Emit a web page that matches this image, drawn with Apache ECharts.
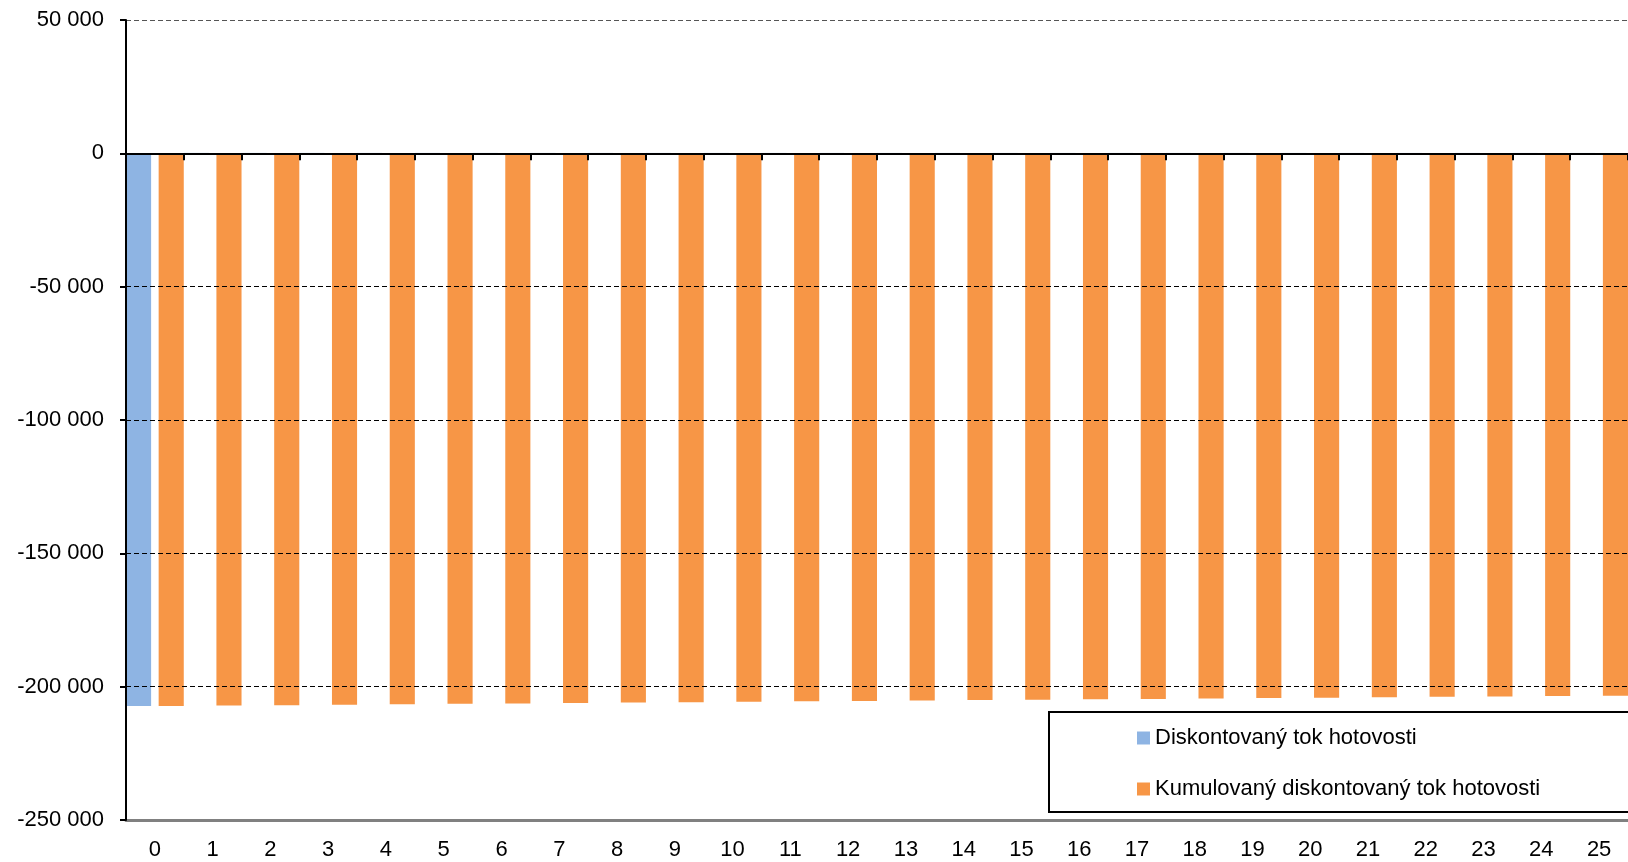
<!DOCTYPE html>
<html>
<head>
<meta charset="utf-8">
<script src="https://cdn.jsdelivr.net/npm/echarts@6/dist/echarts.min.js"></script>
<style>
html,body{margin:0;padding:0;background:#fff;}
#chart{width:1628px;height:862px;}
</style>
</head>
<body>
<div id="chart"></div>
<script>
const categories = ['0','1','2','3','4','5','6','7','8','9','10','11','12','13','14','15','16','17','18','19','20','21','22','23','24','25'];
const discounted = [-207250,165,163,162,160,160,158,158,157,156,156,155,155,154,154,153,153,152,152,151,151,150,150,149,149,148];
const cumulative = [-207250,-207085,-206922,-206760,-206600,-206440,-206282,-206124,-205967,-205811,-205655,-205500,-205345,-205191,-205037,-204884,-204731,-204579,-204427,-204276,-204125,-203975,-203825,-203676,-203527,-203379];
const seriesNames = ['Diskontovaný tok hotovosti','Kumulovaný diskontovaný tok hotovosti'];
const yTicks = {min:-250000, max:50000, interval:50000};

const FONT = 'Liberation Sans';
function fmt(v){
  if (v === 0) return '0';
  const s = String(Math.abs(v)).replace(/\B(?=(\d{3})+(?!\d))/g, ' ');
  return (v < 0 ? '-' : '') + s;
}

const chart = echarts.init(document.getElementById('chart'), null, {renderer:'canvas'});
chart.setOption({
  animation:false,
  backgroundColor:'#fff',
  textStyle:{fontFamily:FONT},
  grid:{left:126, top:20, bottom:42, right:-11, containLabel:false},
  legend:{
    orient:'vertical',
    left:1049, top:712,
    padding:[15,200,12,88],
    borderColor:'#000', borderWidth:2,
    itemWidth:13, itemHeight:13, itemGap:29,
    icon:'rect',
    textStyle:{fontFamily:FONT, fontSize:22, color:'#000', padding:[0,0,0,0]},
    data:seriesNames
  },
  xAxis:[
    {
      type:'category', data:categories, position:'bottom',
      axisLine:{onZero:false, lineStyle:{color:'#808080', width:3}},
      axisTick:{show:false},
      axisLabel:{fontFamily:FONT, fontSize:22, color:'#000', margin:19, interval:0},
      splitLine:{show:false}
    },
    {
      type:'category', data:categories, position:'bottom', z:10,
      axisLine:{onZero:true, lineStyle:{color:'#000', width:2}},
      axisTick:{show:true, length:7, interval:0, lineStyle:{color:'#000', width:2}},
      axisLabel:{show:false},
      splitLine:{show:false}
    }
  ],
  yAxis:{
    type:'value', min:yTicks.min, max:yTicks.max, interval:yTicks.interval, z:10,
    axisLine:{show:true, lineStyle:{color:'#000', width:2}},
    axisTick:{show:true, length:6, lineStyle:{color:'#000', width:2}},
    axisLabel:{fontFamily:FONT, fontSize:22, color:'#000', margin:22, formatter:fmt},
    splitLine:{show:true, lineStyle:{type:[5,3], width:1, color:['#808080','#000','#000','#000','#000','#000','#555']}}
  },
  series:[
    {name:seriesNames[0], type:'bar', xAxisIndex:0, data:discounted, barGap:'30%', barCategoryGap:'0%',
     itemStyle:{color:'#8EB4E3'}},
    {name:seriesNames[1], type:'bar', xAxisIndex:0, data:cumulative, barGap:'30%', barCategoryGap:'0%',
     itemStyle:{color:'#F79646'}}
  ]
});
</script>
</body>
</html>
